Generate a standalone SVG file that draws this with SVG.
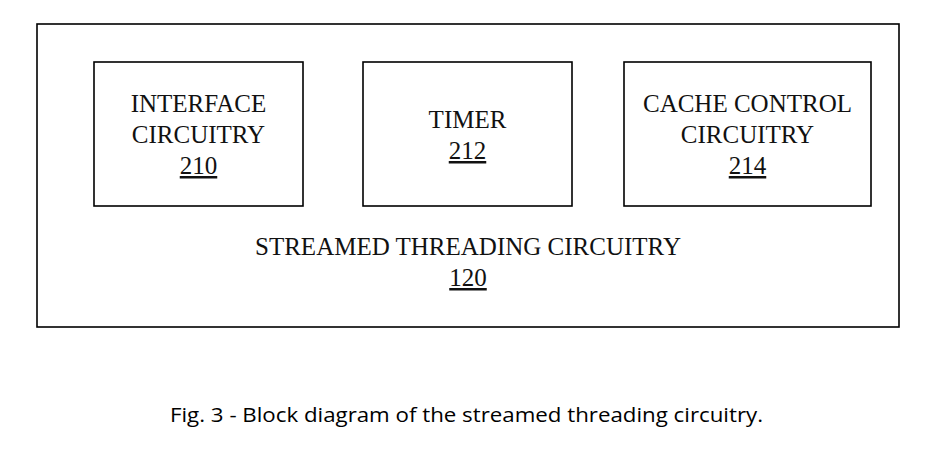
<svg xmlns="http://www.w3.org/2000/svg" width="944" height="454" viewBox="0 0 944 454">
<style>
.box{fill:#fff;stroke:#000;stroke-width:1.6}
.t{font-family:"Liberation Serif","Times New Roman",serif;font-size:25px;fill:#111;text-anchor:middle}
.u{text-decoration:underline}
.cap{font-family:"Open Sans","Liberation Sans",sans-serif;font-size:20px;fill:#000;text-anchor:middle}
</style>
<rect width="944" height="454" fill="#fff"/>
<g id="streamed-threading-circuitry">
<rect class="box" x="37" y="24" width="862" height="303"/>
<text class="t" x="468" y="255">STREAMED THREADING CIRCUITRY</text>
<text class="t u" x="468" y="286">120</text>
</g>
<g id="interface-circuitry">
<rect class="box" x="94" y="62" width="209" height="144"/>
<text class="t" x="198.5" y="112">INTERFACE</text>
<text class="t" x="198.5" y="143">CIRCUITRY</text>
<text class="t u" x="198.5" y="174">210</text>
</g>
<g id="timer">
<rect class="box" x="363" y="62" width="209" height="144"/>
<text class="t" x="467.5" y="128">TIMER</text>
<text class="t u" x="467.5" y="159">212</text>
</g>
<g id="cache-control-circuitry">
<rect class="box" x="624" y="62" width="247" height="144"/>
<text class="t" x="747.5" y="112">CACHE CONTROL</text>
<text class="t" x="747.5" y="143">CIRCUITRY</text>
<text class="t u" x="747.5" y="174">214</text>
</g>
<g id="connectors"></g>
<text class="cap" x="466.5" y="422" textLength="593" lengthAdjust="spacingAndGlyphs">Fig. 3 - Block diagram of the streamed threading circuitry.</text>
</svg>
